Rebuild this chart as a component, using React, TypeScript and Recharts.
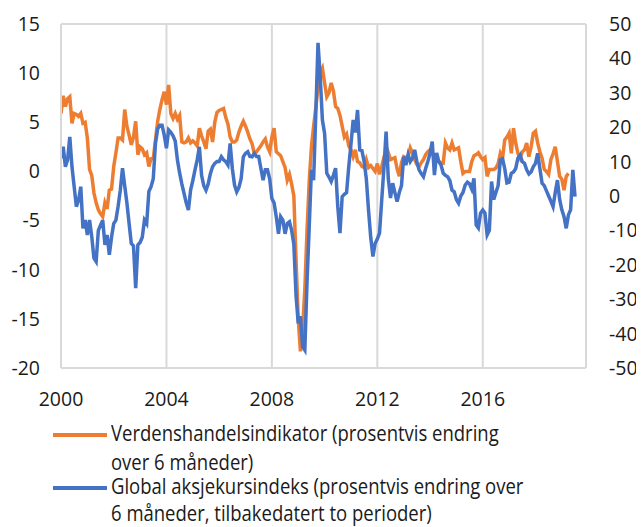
import React from "react";
import { LineChart, Line, XAxis, YAxis, CartesianGrid, ReferenceLine } from "recharts";

const startYear = 2000;
const endMonthIndex = 239;
const yearTicks = [2000, 2004, 2008, 2012, 2016];
const leftTicks = [-20, -15, -10, -5, 0, 5, 10, 15];
const rightTicks = [-50, -40, -30, -20, -10, 0, 10, 20, 30, 40, 50];

const seriesNames = [
  "Verdenshandelsindikator (prosentvis endring over 6 måneder)",
  "Global aksjekursindeks (prosentvis endring over 6 måneder, tilbakedatert to perioder)",
];
const legendLines = [
  ["Verdenshandelsindikator (prosentvis endring", "over 6 måneder)"],
  ["Global aksjekursindeks (prosentvis endring over", "6 måneder, tilbakedatert to perioder)"],
];

// Monthly, from January 2000 (left axis)
const worldTrade = [
  5.9, 7.7, 6.6, 7.4, 7.6, 4.9, 5.9, 5.8, 5.6, 5.9, 4.9, 5.0,
  3.4, 0.2, -0.4, -2.2, -3.2, -3.9, -4.3, -4.6, -3.2, -3.8, -1.9, -1.8,
  0.5, 1.9, 3.4, 3.4, 3.2, 6.3, 4.6, 3.7, 2.7, 3.5, 5.1, 1.7,
  2.5, 2.3, 1.7, 1.9, 0.5, 1.3, 1.3, 3.2, 5.1, 6.3, 7.3, 8.1,
  6.8, 8.8, 5.9, 5.4, 5.9, 5.3, 5.7, 3.0, 2.9, 3.0, 3.4, 2.9,
  3.1, 2.9, 2.6, 4.4, 3.6, 3.0, 2.3, 4.1, 4.3, 3.0, 5.0, 6.0,
  6.2, 6.3, 6.4, 5.5, 4.8, 3.5, 3.0, 3.0, 3.2, 4.0, 4.6, 5.1,
  4.6, 4.0, 3.3, 2.8, 1.8, 2.0, 2.3, 2.6, 3.0, 3.3, 2.5, 2.0,
  3.5, 4.4, 2.0, 1.8, 1.6, 1.0, 0.4, -0.9, -0.3, -1.3, -2.5, -9.0,
  -15.0, -18.3, -16.0, -12.0, -6.0, -1.0, 2.5, 4.6, 6.5, 8.6, 10.0, 10.5,
  9.0, 7.6, 8.0, 9.0, 8.2, 6.6, 6.4, 5.7, 4.6, 3.5, 3.8, 2.6,
  2.2, 1.5, 2.2, 1.0, 0.9, 0.5, 0.4, 1.2, 0.4, 0.6, 0.3, 0.0,
  0.8, -0.3, 0.5, 1.4, 1.1, 1.9, 1.2, 1.3, 1.4, 0.3, -0.5, 0.9,
  1.5, 1.4, 1.5, 2.4, 1.9, 1.2, 0.7, 0.5, 0.9, 1.2, 1.7, 2.0,
  2.2, 1.9, 1.5, 1.2, 1.0, 0.9, 0.85, 2.9, 2.4, 2.2, 2.9, 2.2,
  2.3, 2.4, 1.0, -0.2, 0.0, 0.0, 0.0, 1.0, 1.6, 1.7, 1.9, 1.5,
  1.2, 1.4, -0.5, 0.2, 0.2, 0.2, 0.35, 0.8, 1.85, 1.35, 3.2, 3.5,
  3.9, 1.85, 4.4, 2.9, 1.85, 1.35, 2.0, 2.2, 2.9, 1.5, 2.5, 3.9,
  4.1, 2.9, 2.0, 1.35, 0.2, 0.0, -0.3, 1.2, 1.8, 2.5, 1.0, -0.5,
  -0.8, -1.9, -0.5, -0.2,
];

// Monthly, from January 2000 (right axis)
const globalEquity = [
  11.0, 14.3, 8.5, 10.5, 17.2, 8.5, 2.7, -3.1, -1.2, 2.7, -9.4, -7.0,
  -11.3, -7.0, -11.8, -18.1, -19.1, -10.0, -8.5, -7.0, -14.2, -11.3, -17.1, -12.0,
  -8.0, -7.0, -3.0, 1.7, 8.1, 3.0, -2.0, -8.0, -13.8, -14.5, -26.8, -14.2,
  -13.5, -12.0, -7.0, -8.0, 1.3, 2.7, 5.0, 15.3, 19.5, 20.6, 20.6, 17.7,
  13.9, 19.2, 18.5, 17.5, 16.0, 10.5, 6.7, 3.5, 0.8, -2.0, -4.1, 1.7,
  4.5, 7.6, 10.5, 14.3, 6.0, 3.0, 1.7, 3.5, 6.5, 8.5, 9.5, 10.0,
  10.0, 11.4, 10.5, 10.0, 9.0, 15.3, 8.0, 3.2, 1.2, 2.5, 5.0, 11.4,
  12.4, 12.9, 11.5, 11.4, 12.4, 11.5, 11.5, 8.0, 4.6, 7.6, 7.6, 5.0,
  -0.7, -2.0, -6.0, -11.0, -6.0, -7.0, -11.0, -8.0, -7.5, -10.0, -14.0, -29.0,
  -37.0, -35.0, -43.8, -44.8, -25.0, -9.0, 7.6, 4.6, 24.0, 44.5, 34.7, 22.1,
  18.2, 6.6, 5.5, 4.2, 6.0, 8.1, -3.1, -10.8, -0.2, 0.5, 1.0, 8.5,
  15.0, 22.1, 18.5, 25.0, 13.4, 13.2, 10.0, 5.0, -4.1, -12.0, -17.6, -13.8,
  -12.5, -10.8, -1.2, 8.0, 18.7, 5.0, -0.6, 3.7, 1.0, -1.6, 1.0, 3.0,
  11.4, 9.0, 12.0, 10.0, 11.0, 13.4, 10.0, 7.6, 6.5, 5.6, 8.0, 10.0,
  12.4, 15.8, 6.1, 12.5, 10.0, 9.0, 6.6, 6.0, 5.6, 4.5, 1.7, 1.2,
  -1.0, -2.1, 0.0, 1.0, 3.2, 4.0, 3.5, 2.0, 5.1, -8.4, -9.3, -5.0,
  -4.1, -5.0, -11.3, -10.0, 4.2, -1.0, 1.0, 3.0, 10.5, 10.8, 8.0, 3.8,
  4.0, 6.6, 7.0, 8.0, 11.0, 11.9, 10.0, 9.5, 7.6, 6.4, 7.0, 8.5,
  9.5, 12.4, 8.0, 3.7, 3.0, 1.5, 0.0, -1.5, -3.1, 1.0, 4.6, -1.0,
  -4.0, -6.0, -9.4, -5.5, -4.0, 7.6, -0.2,
];

const ORANGE = "#ED7D31";
const BLUE = "#4472C4";
const GRID = "#D9D9D9";
const TEXT = "#1a1a1a";
const FONT = "'Open Sans', 'Noto Sans', sans-serif";

const rowCount = Math.max(worldTrade.length, globalEquity.length);
const data = Array.from({ length: rowCount }, (_, i) => ({
  t: startYear + i / 12,
  trade: i < worldTrade.length ? worldTrade[i] : null,
  equity: i < globalEquity.length ? globalEquity[i] : null,
}));

const tickStyle = { fontSize: 19.5, fill: TEXT, fontFamily: FONT };

const legendEntries = [
  { color: ORANGE, barTop: 425, lineTops: [413.2, 441.5] },
  { color: BLUE, barTop: 477.5, lineTops: [466, 492.5] },
];

export default function App() {
  return (
    <>
      <style>{"#root{width:636px;}"}</style>
      <div
        style={{
          position: "relative",
          width: 636,
          height: 519,
          overflow: "hidden",
          fontFamily: FONT,
        }}
      >
        <LineChart
          width={636}
          height={415}
          data={data}
          margin={{ top: 16, right: 0, bottom: 0, left: 0 }}
        >
          <CartesianGrid horizontal={false} vertical={true} stroke={GRID} strokeWidth={2} />
          <XAxis
            dataKey="t"
            type="number"
            domain={[startYear, startYear + endMonthIndex / 12]}
            ticks={yearTicks}
            tickFormatter={(v) => String(Math.round(v))}
            height={55}
            tickSize={0}
            tickMargin={24}
            axisLine={{ stroke: GRID, strokeWidth: 2 }}
            tick={tickStyle}
            allowDataOverflow
          />
          <YAxis
            yAxisId="left"
            orientation="left"
            domain={[-20, 15]}
            ticks={leftTicks}
            width={53}
            tickSize={0}
            tickMargin={21}
            axisLine={{ stroke: GRID, strokeWidth: 2 }}
            tick={tickStyle}
            interval={0}
          />
          <YAxis
            yAxisId="right"
            orientation="right"
            domain={[-50, 50]}
            ticks={rightTicks}
            width={58}
            tickSize={0}
            tickMargin={23}
            axisLine={{ stroke: GRID, strokeWidth: 2 }}
            tick={tickStyle}
            interval={0}
          />
          <ReferenceLine yAxisId="left" y={15} stroke={GRID} strokeWidth={2} />
          <Line
            yAxisId="left"
            type="linear"
            dataKey="trade"
            name={seriesNames[0]}
            stroke={ORANGE}
            strokeWidth={3.5}
            dot={false}
            isAnimationActive={false}
            connectNulls={false}
          />
          <Line
            yAxisId="right"
            type="linear"
            dataKey="equity"
            name={seriesNames[1]}
            stroke={BLUE}
            strokeWidth={3.5}
            dot={false}
            isAnimationActive={false}
            connectNulls={false}
          />
        </LineChart>
        {legendEntries.map((entry, idx) => (
          <React.Fragment key={idx}>
            <div
              style={{
                position: "absolute",
                left: 45,
                top: entry.barTop,
                width: 54,
                height: 4,
                background: entry.color,
              }}
            />
            {legendLines[idx].map((text, j) => (
              <div
                key={j}
                style={{
                  position: "absolute",
                  left: 103,
                  top: entry.lineTops[j],
                  fontSize: 21.5,
                  lineHeight: "24px",
                  color: TEXT,
                  whiteSpace: "nowrap",
                  transform: "scaleX(0.86)",
                  transformOrigin: "0 0",
                }}
              >
                {text}
              </div>
            ))}
          </React.Fragment>
        ))}
      </div>
    </>
  );
}
